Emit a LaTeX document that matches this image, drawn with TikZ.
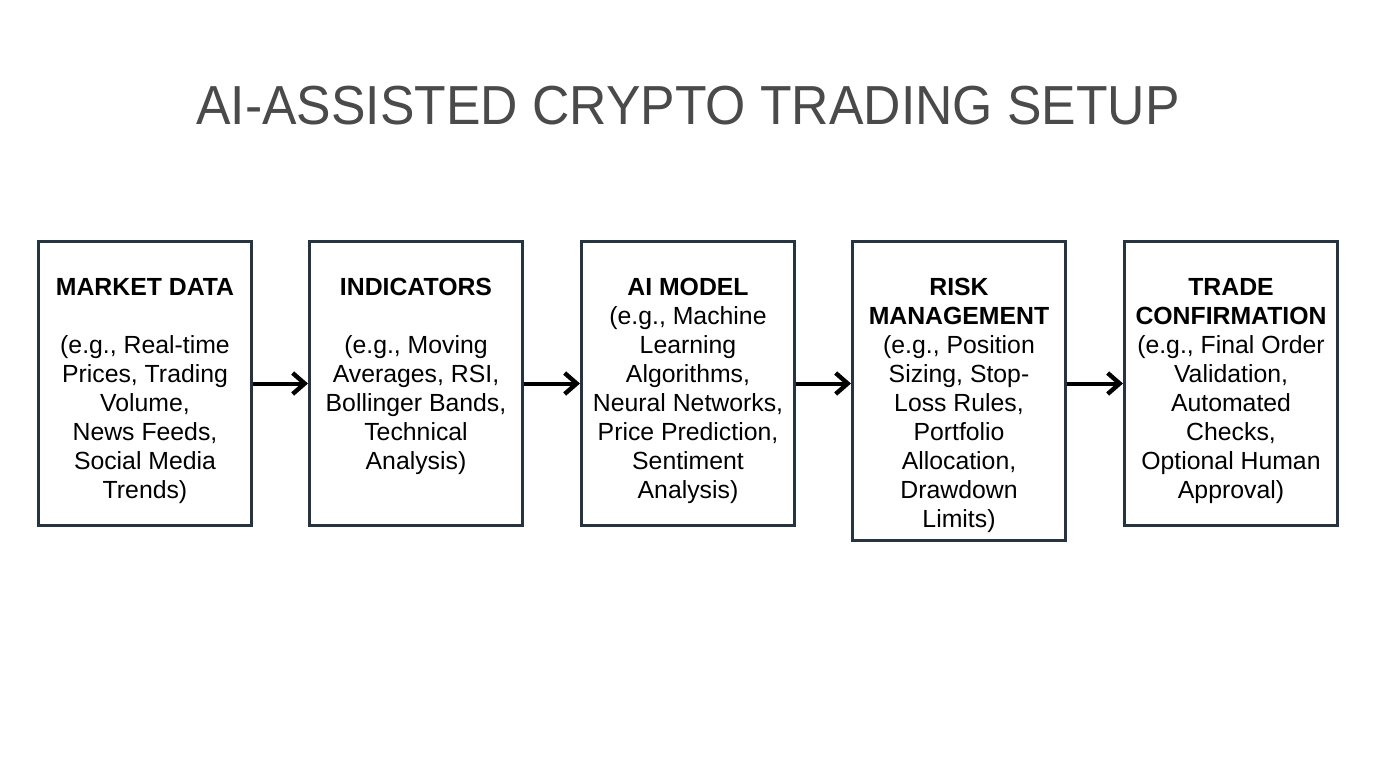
\documentclass[tikz,border=0pt]{standalone}
\usepackage{fontspec}
\setmainfont{Liberation Sans}
\usetikzlibrary{arrows.meta}
\definecolor{titleGray}{HTML}{4A4A4A}
\definecolor{boxBorder}{HTML}{263340}
% box body: fixed height, text set from the top
\newcommand{\stagebody}[2]{%
  \begin{minipage}[c][#1][t]{106.5pt}\centering
  \fontsize{12.4pt}{14.5pt}\selectfont
  \vspace*{16.6pt}#2\end{minipage}}
\begin{document}
\begin{tikzpicture}[x=0.5pt, y=-0.5pt,
  stage/.style={draw=boxBorder, line width=1.5pt, fill=white, inner sep=0pt, anchor=north west},
  flow/.style={line width=2pt, -{Straight Barb[length=6pt, width=10.5pt, line width=2.2pt]}}]
\useasboundingbox[fill=white] (0,0) rectangle (1376,768);
% Title
\node[text=titleGray, font=\fontsize{27.5pt}{32pt}\selectfont] (title) at (688,106)
  {\scalebox{0.94}[1]{AI-ASSISTED CRYPTO TRADING SETUP}};
% Stages
\node[stage] (market) at (37,240) {\stagebody{142pt}{\strut\textbf{MARKET DATA}\\[14.5pt]
  (e.g., Real-time\\Prices, Trading\\Volume,\\News Feeds,\\Social Media\\Trends)}};
\node[stage] (indic) at (308,240) {\stagebody{142pt}{\strut\textbf{INDICATORS}\\[14.5pt]
  (e.g., Moving\\Averages, RSI,\\Bollinger Bands,\\Technical\\Analysis)}};
\node[stage] (model) at (580,240) {\stagebody{142pt}{\strut\textbf{AI MODEL}\\
  (e.g., Machine\\Learning\\Algorithms,\\Neural Networks,\\Price Prediction,\\Sentiment\\Analysis)}};
\node[stage] (risk) at (851,240) {\stagebody{149.5pt}{\strut\textbf{RISK}\\\textbf{MANAGEMENT}\\
  (e.g., Position\\Sizing, Stop-\\Loss Rules,\\Portfolio\\Allocation,\\Drawdown\\Limits)}};
\node[stage] (trade) at (1123,240) {\stagebody{142pt}{\strut\textbf{TRADE}\\\textbf{CONFIRMATION}\\
  (e.g., Final Order\\Validation,\\Automated\\Checks,\\Optional Human\\Approval)}};
% Arrows
\draw[flow] (market.east) -- (indic.west);
\draw[flow] (indic.east) -- (model.west);
\draw[flow] (model.east) -- (model.east -| risk.west);
\draw[flow] (model.east -| risk.east) -- (trade.west);
\end{tikzpicture}
\end{document}
